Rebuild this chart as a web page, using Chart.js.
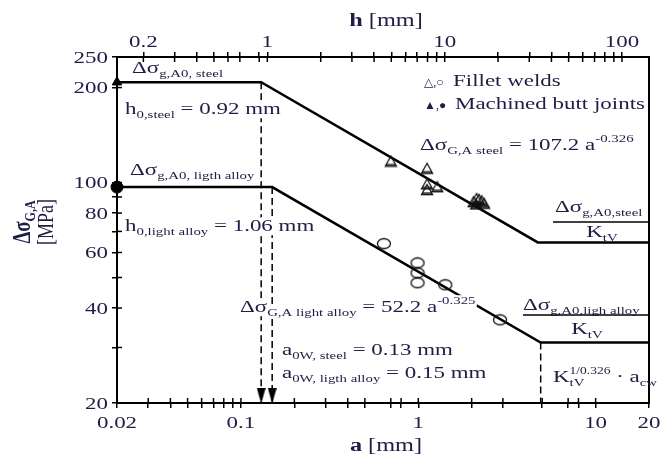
<!DOCTYPE html>
<html><head><meta charset="utf-8">
<script src="https://cdn.jsdelivr.net/npm/chart.js@4.4.0/dist/chart.umd.min.js"></script>
<style>html,body{margin:0;padding:0;background:#fff;}</style>
</head><body>
<canvas id="c" width="660" height="460"></canvas>
<script>
// ---- data ----
const A_TICKS = [0.02,0.03,0.04,0.05,0.06,0.07,0.08,0.09,0.1,0.2,0.3,0.4,0.5,0.7,0.8,1,2,3,5,7,8,10,20];
const A_LABELS = [0.02,0.1,1,10,20];
const H_TICKS = [0.2,0.3,0.4,0.5,0.6,0.7,0.9,1,2,3,4,5,6,7,8,9,10,20,30,40,50,60,70,80,90,100];
const H_LABELS = [0.2,1,10,100];
const Y_TICKS = [20,30,40,50,60,70,80,90,100,200,250];
const Y_LABELS = [20,40,60,80,100,200,250];
const H_PER_A = 7.1;

const STEEL_CURVE_A = [0.02,0.13,4.72,20];
const STEEL_CURVE_S = [208,208,64.6,64.6];
const ALLOY_CURVE_A = [0.02,0.15,4.9,20];
const ALLOY_CURVE_S = [96.7,96.7,31.1,31.1];
const STEEL_FILLET_A = [0.70,1.12,1.12,1.28,1.12,2.05,2.13,2.20,2.28,2.35,2.12];
const STEEL_FILLET_S = [117,111,99,97,95,87,89,88.5,87.5,86,85.5];
const ALLOY_FILLET_A = [0.64,0.99,0.99,0.99,1.42,2.89];
const ALLOY_FILLET_S = [64,55.6,51.7,48.1,47.4,36.7];
const BUTT_A = [0.02,0.02];
const BUTT_S = [208,96.7];
const A0W = [0.13,0.15];
const ACW = 4.9;

// ---- styling helpers ----
const HS = 1.35, TXT = '#1d1d45';
function F(s,b){return (b?'bold ':'')+s+'px "Liberation Serif", "DejaVu Serif", serif';}
const N=(t,s=17,b=false)=>({t,s,dy:0,b});
const S=(t,s=11,b=false,adv=true)=>({t,s,dy:4,b,adv});
const U=(t,s=11,b=false)=>({t,s,dy:-8,b});
function rich(ctx,x,y,parts,o={}){
  ctx.save(); ctx.translate(x,y); if(o.rot) ctx.rotate(o.rot);
  ctx.scale(o.sx!==undefined?o.sx:HS, o.sy!==undefined?o.sy:1);
  let w=0; const items=parts.map(p=>{ctx.font=F(p.s,p.b); const mw=ctx.measureText(p.t).width; const it=Object.assign({},p,{x:w,w:mw}); if(p.adv!==false) w+=mw; return it;});
  const x0 = o.align==='center'? -w/2 : (o.align==='right'? -w : 0);
  if(o.bg){ctx.fillStyle='#fff'; items.forEach(it=>ctx.fillRect(x0+it.x-1, it.dy-it.s*0.8, it.w+2, it.s*1.05));}
  ctx.fillStyle=o.color||TXT; ctx.textAlign='left'; ctx.textBaseline='alphabetic';
  items.forEach(it=>{ctx.font=F(it.s,it.b); ctx.fillText(it.t, x0+it.x, it.dy);});
  ctx.restore();
}
function mk(w,h,draw){const c=document.createElement('canvas'); c.width=w; c.height=h; draw(c.getContext('2d')); return c;}
const triImg = mk(14,13,g=>{g.strokeStyle='#111'; g.lineWidth=1.3; g.beginPath(); g.moveTo(1.5,11.5); g.lineTo(7,1.5); g.lineTo(12.5,11.5); g.closePath(); g.stroke(); g.beginPath(); g.moveTo(2,10); g.lineTo(12,10); g.stroke();});
const ellImg = mk(16,13,g=>{g.strokeStyle='#111'; g.lineWidth=1.3; g.beginPath(); g.ellipse(8,6.5,6.5,5,0,0,Math.PI*2); g.stroke();});
const arrowImg = mk(9,16,g=>{g.fillStyle='#000'; g.beginPath(); g.moveTo(0,0); g.lineTo(9,0); g.lineTo(4.5,16); g.closePath(); g.fill();});

const pts=(xs,ys)=>xs.map((x,i)=>({x,y:ys[i]}));

function axisCfg(pos,min,max,ticksArr,prop,size){
  return {type:'logarithmic',position:pos,min,max,
    afterBuildTicks:s=>{s.ticks=ticksArr.map(v=>({value:v}));},
    ticks:{display:false,autoSkip:false},
    grid:{drawOnChartArea:false,drawTicks:true,tickLength:5,color:'#000',lineWidth:1.5},
    border:{display:true,color:'#000',width:2},
    afterFit:s=>{s[prop]=size;}};
}

const decor = {
  id:'decor',
  afterDatasetsDraw(chart){
    const ctx=chart.ctx, ca=chart.chartArea, sx=chart.scales.x, st=chart.scales.xTop, sy=chart.scales.y;
    ctx.save();
    ctx.strokeStyle='#000'; ctx.lineWidth=2;
    ctx.beginPath(); ctx.moveTo(ca.right,ca.top-1); ctx.lineTo(ca.right,ca.bottom+1); ctx.stroke();
    ctx.lineWidth=1.5;
    A_TICKS.forEach(v=>{const p=sx.getPixelForValue(v); ctx.beginPath(); ctx.moveTo(p,ca.bottom); ctx.lineTo(p,ca.bottom-5); ctx.stroke();});
    H_TICKS.forEach(v=>{const p=st.getPixelForValue(v); ctx.beginPath(); ctx.moveTo(p,ca.top); ctx.lineTo(p,ca.top+5); ctx.stroke();});
    Y_TICKS.forEach(v=>{const p=sy.getPixelForValue(v); ctx.beginPath(); ctx.moveTo(ca.left,p); ctx.lineTo(ca.left+5,p); ctx.stroke();});
    A_LABELS.forEach(v=>rich(ctx,sx.getPixelForValue(v),428,[N(String(v))],{align:'center'}));
    H_LABELS.forEach(v=>rich(ctx,st.getPixelForValue(v),47,[N(String(v))],{align:'center'}));
    Y_LABELS.forEach(v=>rich(ctx,ca.left-9,sy.getPixelForValue(v)+5.5,[N(String(v))],{align:'right'}));
    rich(ctx,386,451,[N('a',18,true),N(' [mm]',18)],{align:'center'});
    rich(ctx,386,26,[N('h',18,true),N(' [mm]',18)],{align:'center'});
    rich(ctx,30,222,[N('Δσ',19,true),S('G,A',12,true)],{align:'center',rot:-Math.PI/2,sx:1,sy:1.3});
    rich(ctx,53,222,[N('[MPa]',18)],{align:'center',rot:-Math.PI/2,sx:1,sy:1.3});
    rich(ctx,132,73,[N('Δσ'),S('g,A0, steel')]);
    rich(ctx,125,114,[N('h'),S('0,steel'),N(' = 0.92 mm')],{bg:true});
    rich(ctx,130,175,[N('Δσ'),S('g,A0, ligth alloy')]);
    rich(ctx,125,231,[N('h'),S('0,light alloy'),N(' = 1.06 mm')],{bg:true});
    rich(ctx,420,150,[N('Δσ'),S('G,A steel'),N(' = 107.2 a'),U('-0.326')]);
    rich(ctx,424,86,[N('△,○',12)],{sx:1});
    rich(ctx,453,86,[N('Fillet welds')]);
    rich(ctx,424,109,[N('▲,●',12)],{sx:1});
    rich(ctx,455,109,[N('Machined butt joints')]);
    rich(ctx,240,312,[N('Δσ'),S('G,A light alloy'),N(' = 52.2 a'),U('-0.325')],{bg:true});
    rich(ctx,282,355,[N('a'),S('0W, steel'),N(' = 0.13 mm')]);
    rich(ctx,282,378,[N('a'),S('0W, ligth alloy'),N(' = 0.15 mm')]);
    rich(ctx,555,212,[N('Δσ'),S('g,A0,steel')]);
    rich(ctx,602,237,[N('K'),S('tV')],{align:'center'});
    rich(ctx,523,310,[N('Δσ'),S('g,A0,ligh alloy')]);
    rich(ctx,587,334,[N('K'),S('tV')],{align:'center'});
    ctx.strokeStyle='#000'; ctx.lineWidth=1.5;
    ctx.beginPath(); ctx.moveTo(553,222); ctx.lineTo(ca.right,222); ctx.stroke();
    ctx.beginPath(); ctx.moveTo(523,315); ctx.lineTo(ca.right,315); ctx.stroke();
    rich(ctx,553,382,[N('K'),S('tV',11,false,false),U('1/0.326',10),N(' · a'),S('cw')]);
    ctx.restore();
  }
};

const lineDs=(label,data,extra)=>Object.assign({label,data,showLine:true,borderColor:'#000',borderWidth:2.5,pointRadius:0,order:2,clip:false},extra||{});
new Chart(document.getElementById('c'),{
  type:'scatter',
  data:{datasets:[
    {label:'Fillet welds (steel)',data:pts(STEEL_FILLET_A,STEEL_FILLET_S),pointStyle:triImg,pointRadius:6,order:0,clip:false},
    {label:'Fillet welds (light alloy)',data:pts(ALLOY_FILLET_A,ALLOY_FILLET_S),pointStyle:ellImg,pointRadius:6,order:0,clip:false},
    {label:'Machined butt joints',data:pts(BUTT_A,BUTT_S),pointStyle:['triangle','circle'],pointRadius:[5.5,6],backgroundColor:'#000',borderColor:'#000',order:0,clip:false},
    {label:'a0W arrows',data:pts(A0W,[21.1,21.1]),pointStyle:arrowImg,pointRadius:6,order:0,clip:false},
    lineDs('steel',pts(STEEL_CURVE_A,STEEL_CURVE_S)),
    lineDs('light alloy',pts(ALLOY_CURVE_A,ALLOY_CURVE_S)),
    lineDs('a0W steel',[{x:A0W[0],y:STEEL_CURVE_S[1]},{x:A0W[0],y:20}],{borderWidth:1.5,borderDash:[7,4],order:3}),
    lineDs('a0W alloy',[{x:A0W[1],y:ALLOY_CURVE_S[1]},{x:A0W[1],y:20}],{borderWidth:1.5,borderDash:[7,4],order:3}),
    lineDs('acw',[{x:ACW,y:ALLOY_CURVE_S[2]},{x:ACW,y:20}],{borderWidth:1.5,borderDash:[7,4],order:3})
  ]},
  options:{responsive:false,animation:false,events:[],
    layout:{padding:{left:0,right:11,top:0,bottom:0}},
    plugins:{legend:{display:false},tooltip:{enabled:false}},
    scales:{
      x:axisCfg('bottom',0.02,20,A_TICKS,'height',57),
      xTop:axisCfg('top',0.02*H_PER_A,20*H_PER_A,H_TICKS,'height',57),
      y:axisCfg('left',20,250,Y_TICKS,'width',117)
    }
  },
  plugins:[decor]
});
</script>
</body></html>
